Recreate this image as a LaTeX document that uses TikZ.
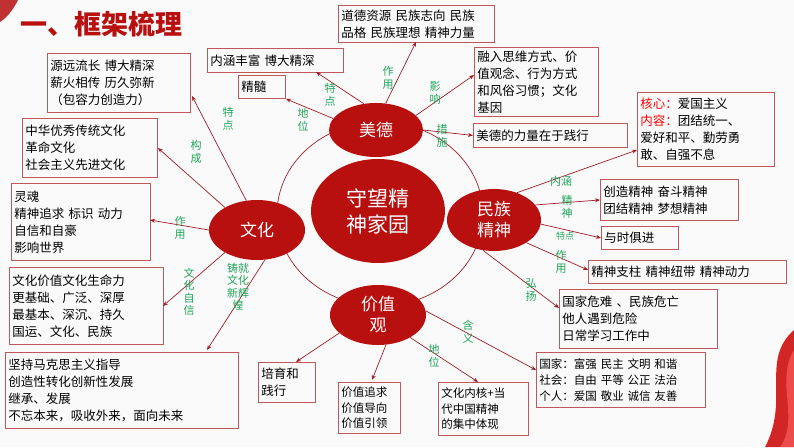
\documentclass[tikz,border=0pt]{standalone}
\usepackage{fontspec}
\setmainfont{Noto Sans CJK SC}
\XeTeXlinebreaklocale "zh"
\XeTeXlinebreakskip=0pt plus 1pt
\usetikzlibrary{arrows.meta,shapes.geometric}
\definecolor{dred}{HTML}{B80F0F}
\definecolor{bord}{HTML}{C0575A}
\definecolor{lgreen}{HTML}{1FA55A}
\definecolor{arr}{HTML}{A01E28}
\tikzset{
 bx/.style={draw=bord,line width=0.9pt,anchor=north west,align=left,inner sep=3pt,font=\fontsize{12.5}{17}\selectfont},
 el/.style={ellipse,fill=dred,text=white,inner sep=0pt,align=center},
 lab/.style={text=lgreen,font=\fontsize{11}{12.5}\selectfont,align=center,inner sep=0pt},
 ar/.style={draw=arr,line width=0.7pt,-{Stealth[length=5pt,width=4pt]}},
}
\newcommand{\bx}[6]{\node[bx,minimum width=#4pt,minimum height=#5pt,text width=#4pt-6pt] (#1) at (#2,#3) {#6};}
\begin{document}
\begin{tikzpicture}[x=1pt,y=-1pt]
\useasboundingbox (0,0) rectangle (794,447);
\fill[gray!4] (0,0) rectangle (794,447);
% decoration
\fill[red!80!black,opacity=0.85] (794,330) .. controls (760,360) and (790,400) .. (765,447) -- (794,447) -- cycle;
\fill[red!60,opacity=0.6] (794,350) .. controls (775,380) and (800,420) .. (780,447) -- (794,447) -- cycle;
\fill[red!70!black,opacity=0.8] (0,0) -- (18,0) .. controls (12,12) and (6,18) .. (0,22) -- cycle;
\node[anchor=west,text=dred,font=\fontsize{27}{30}\selectfont\bfseries,inner sep=0pt] (title) at (20,24) {一、框架梳理};
% big circle
\draw[arr,line width=0.7pt] (380,214) ellipse [x radius=103, y radius=92];
% ellipses
\node[el,minimum width=134pt,minimum height=104pt,font=\fontsize{21}{26}\selectfont] (c) at (378,211) {守望精\\神家园};
\node[el,minimum width=94pt,minimum height=54pt,font=\fontsize{17}{20}\selectfont] (md) at (376,130) {美德};
\node[el,minimum width=96pt,minimum height=60pt,font=\fontsize{17}{20}\selectfont] (wh) at (257,230) {文化};
\node[el,minimum width=94pt,minimum height=62pt,font=\fontsize{17}{21}\selectfont] (mz) at (494,220) {民族\\精神};
\node[el,minimum width=96pt,minimum height=60pt,font=\fontsize{17}{21}\selectfont] (jz) at (378,315) {价值\\观};
% boxes
\bx{b1}{338}{5}{156}{37}{道德资源 民族志向 民族\\品格 民族理想 精神力量}
\bx{b2}{207}{48}{136}{24}{内涵丰富 博大精深}
\bx{b3}{238}{75}{47}{23}{精髓}
\bx{b4}{474}{47}{124}{69}{融入思维方式、价\\值观念、行为方式\\和风俗习惯；文化\\基因}
\bx{b5}{473}{123}{154}{24}{美德的力量在于践行}
\bx{b6}{637}{92}{137}{74}{\textcolor{red}{核心：}爱国主义\\\textcolor{red}{内容：}团结统一、\\爱好和平、勤劳勇\\敢、自强不息}
\bx{b7}{600}{179}{138}{41}{创造精神 奋斗精神\\团结精神 梦想精神}
\bx{b8}{601}{226}{77}{23}{与时俱进}
\bx{b9}{588}{260}{198}{23}{精神支柱 精神纽带 精神动力}
\bx{b10}{559}{289}{158}{59}{国家危难 、民族危亡\\他人遇到危险\\日常学习工作中}
\node[bx,minimum width=169pt,minimum height=55pt,text width=163pt,font=\fontsize{11.5}{16}\selectfont] (b11) at (536,352) {国家：富强 民主 文明 和谐\\社会：自由 平等 公正 法治\\个人：爱国 敬业 诚信 友善};
\node[bx,minimum width=90pt,minimum height=53pt,text width=84pt,font=\fontsize{11.5}{15.5}\selectfont] (b12) at (438,382) {文化内核+当\\代中国精神\\的集中体现};
\bx{b13}{47}{53}{143}{59}{源远流长 博大精深\\薪火相传 历久弥新\\（包容力创造力）}
\bx{b14}{22}{118}{135}{59}{中华优秀传统文化\\革命文化\\社会主义先进文化}
\bx{b15}{11}{183}{139}{77}{灵魂\\精神追求 标识 动力\\自信和自豪\\影响世界}
\bx{b16}{9}{267}{154}{77}{文化价值文化生命力\\更基础、广泛、深厚\\最基本、深沉、持久\\国运、文化、民族}
\bx{b17}{5}{352}{233}{76}{坚持马克思主义指导\\创造性转化创新性发展\\继承、发展\\不忘本来，吸收外来，面向未来}
\bx{b18}{258}{362}{57}{40}{培育和\\践行}
\node[bx,minimum width=62pt,minimum height=51pt,text width=56pt,font=\fontsize{11.5}{15.5}\selectfont] (b19) at (338,382) {价值追求\\价值导向\\价值引领};
% arrows
\draw[ar] (md.70) -- (416,42);
\draw[ar] (md.115) -- (316,72);
\draw[ar] (md.165) -- (b3.south east);
\draw[ar] (md.20) -- (474,75);
\draw[ar] (md.east) -- (b5.west);
\draw[ar] (wh.110) -- (192,96);
\draw[ar] (wh.145) -- (b14.east);
\draw[ar] (wh.west) -- (150,220);
\draw[ar] (wh.215) -- (163,306);
\draw[ar] (wh.285) -- (207,350);
\draw[ar] (mz.50) -- (637,150);
\draw[ar] (mz.20) -- (b7.west);
\draw[ar] (mz.-5) -- (b8.west);
\draw[ar] (mz.-35) -- (588,270);
\draw[ar] (mz.-110) -- (559,308);
\draw[ar] (jz.5) -- (536,370);
\draw[ar] (jz.-35) -- (478,382);
\draw[ar] (jz.205) -- (296,362);
\draw[ar] (jz.-75) -- (372,380);
% labels
\node[lab] (l1) at (330,95) {特\\点};
\node[lab] (l2) at (303,120) {地\\位};
\node[lab] (l3) at (388,78) {作\\用};
\node[lab] (l4) at (435,93) {影\\响};
\node[lab] (l5) at (442,136) {措\\施};
\node[lab] (l6) at (228,119) {特\\点};
\node[lab] (l7) at (196,152) {构\\成};
\node[lab] (l8) at (180,228) {作\\用};
\node[lab] (l9) at (189,292) {文\\化\\自\\信};
\node[lab] (l10) at (238,287) {铸就\\文化\\新辉\\煌};
\node[lab] (l11) at (561,181) {内涵};
\node[lab] (l12) at (567,207) {精\\神};
\node[lab,font=\fontsize{9}{10}\selectfont] (l13) at (565,236) {特点};
\node[lab] (l14) at (561,262) {作\\用};
\node[lab] (l15) at (531,290) {弘\\扬};
\node[lab] (l16) at (468,332) {含\\义};
\node[lab] (l17) at (434,356) {地\\位};
\end{tikzpicture}
\end{document}
